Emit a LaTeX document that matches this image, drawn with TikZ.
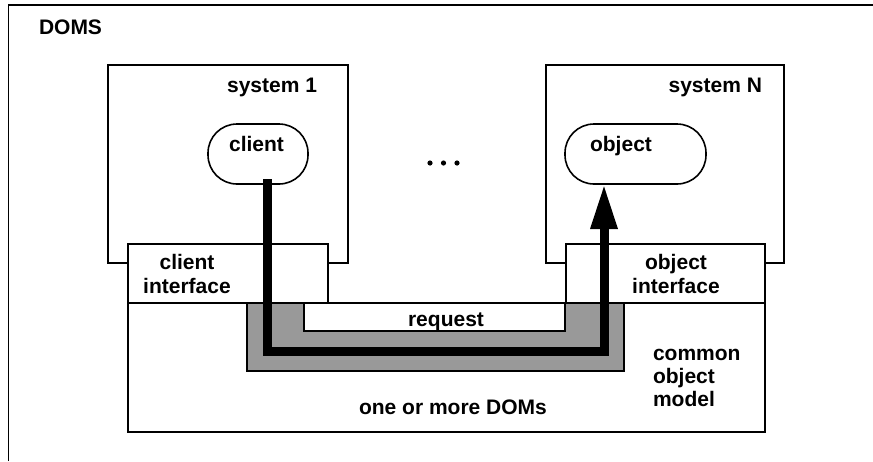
\documentclass[tikz,border=0pt]{standalone}
\usepackage{fontspec}
\setmainfont{Liberation Sans}
\usetikzlibrary{arrows.meta}
\definecolor{pathgray}{gray}{0.6}
\begin{document}
\begin{tikzpicture}[x=1pt,y=-1pt,
  frame/.style={line width=1.6pt},
  box/.style={draw, line width=1.6pt, fill=white, inner sep=0pt, outer sep=0pt, anchor=north west},
  oval/.style={draw, line width=1.6pt, fill=white, rounded corners=29pt, minimum height=60pt, inner sep=0pt, outer sep=0pt},
  lbl/.style={font=\fontsize{21}{23.3}\selectfont\bfseries, inner sep=0pt, outer sep=0pt, anchor=base},
  flow/.style={line width=9pt, line join=miter, -{Triangle[length=45pt,width=25pt]}}]
\useasboundingbox (0,0) rectangle (873,461);
% outer frame (cropped)
\draw[frame] (8.5,461) |- (873,5);
% systems
\node[box, minimum width=240pt, minimum height=198pt] (sys1) at (108,65) {};
\node[box, minimum width=238pt, minimum height=198pt] (sysN) at (546,65) {};
% common object model
\node[box, minimum width=637pt, minimum height=129pt] (dom) at (128,303) {};
% interfaces
\node[box, minimum width=200pt, minimum height=59pt] (cif) at (128,244) {};
\node[box, minimum width=199pt, minimum height=59pt] (oif) at (566,244) {};
% request channel
\draw[line width=1.6pt, fill=pathgray] (247,303) -- (304,303) -- (304,331) -- (565,331)
  -- (565,303) -- (624,303) -- (624,371) -- (247,371) -- cycle;
% ovals
\node[oval, minimum width=100pt] (client) at (258,154) {};
\node[oval, minimum width=141pt] (object) at (635.5,154) {};
% labels
\node[lbl] (doms) at (70.5,34) {DOMS};
\node[lbl, anchor=base east] (s1lbl) at (317,92) {system 1};
\node[lbl, anchor=base east] (sNlbl) at (762,92) {system N};
\node[lbl] (clienttxt) at (256.5,151) {client};
\node[lbl] (objecttxt) at (621,151) {object};
\node[lbl, align=center] (ciftxt) at (187,293) {client\\interface};
\node[lbl, align=center] (oiftxt) at (676,293) {object\\interface};
\node[lbl] (reqtxt) at (446,326) {request};
\node[lbl, anchor=base west, align=left] (comtxt) at (653,406.7) {common\\object\\model};
\node[lbl] (domstxt) at (453,414) {one or more DOMs};
% ellipsis
\fill (430,163) circle (2.6pt);
\fill (443.5,163) circle (2.6pt);
\fill (457,163) circle (2.6pt);
% request flow
\coordinate (turn) at (604,351);
\draw[flow] ([xshift=9.5pt,yshift=5pt]client.south) |- (turn) -- ([xshift=-31.5pt]object.south);
\end{tikzpicture}
\end{document}
